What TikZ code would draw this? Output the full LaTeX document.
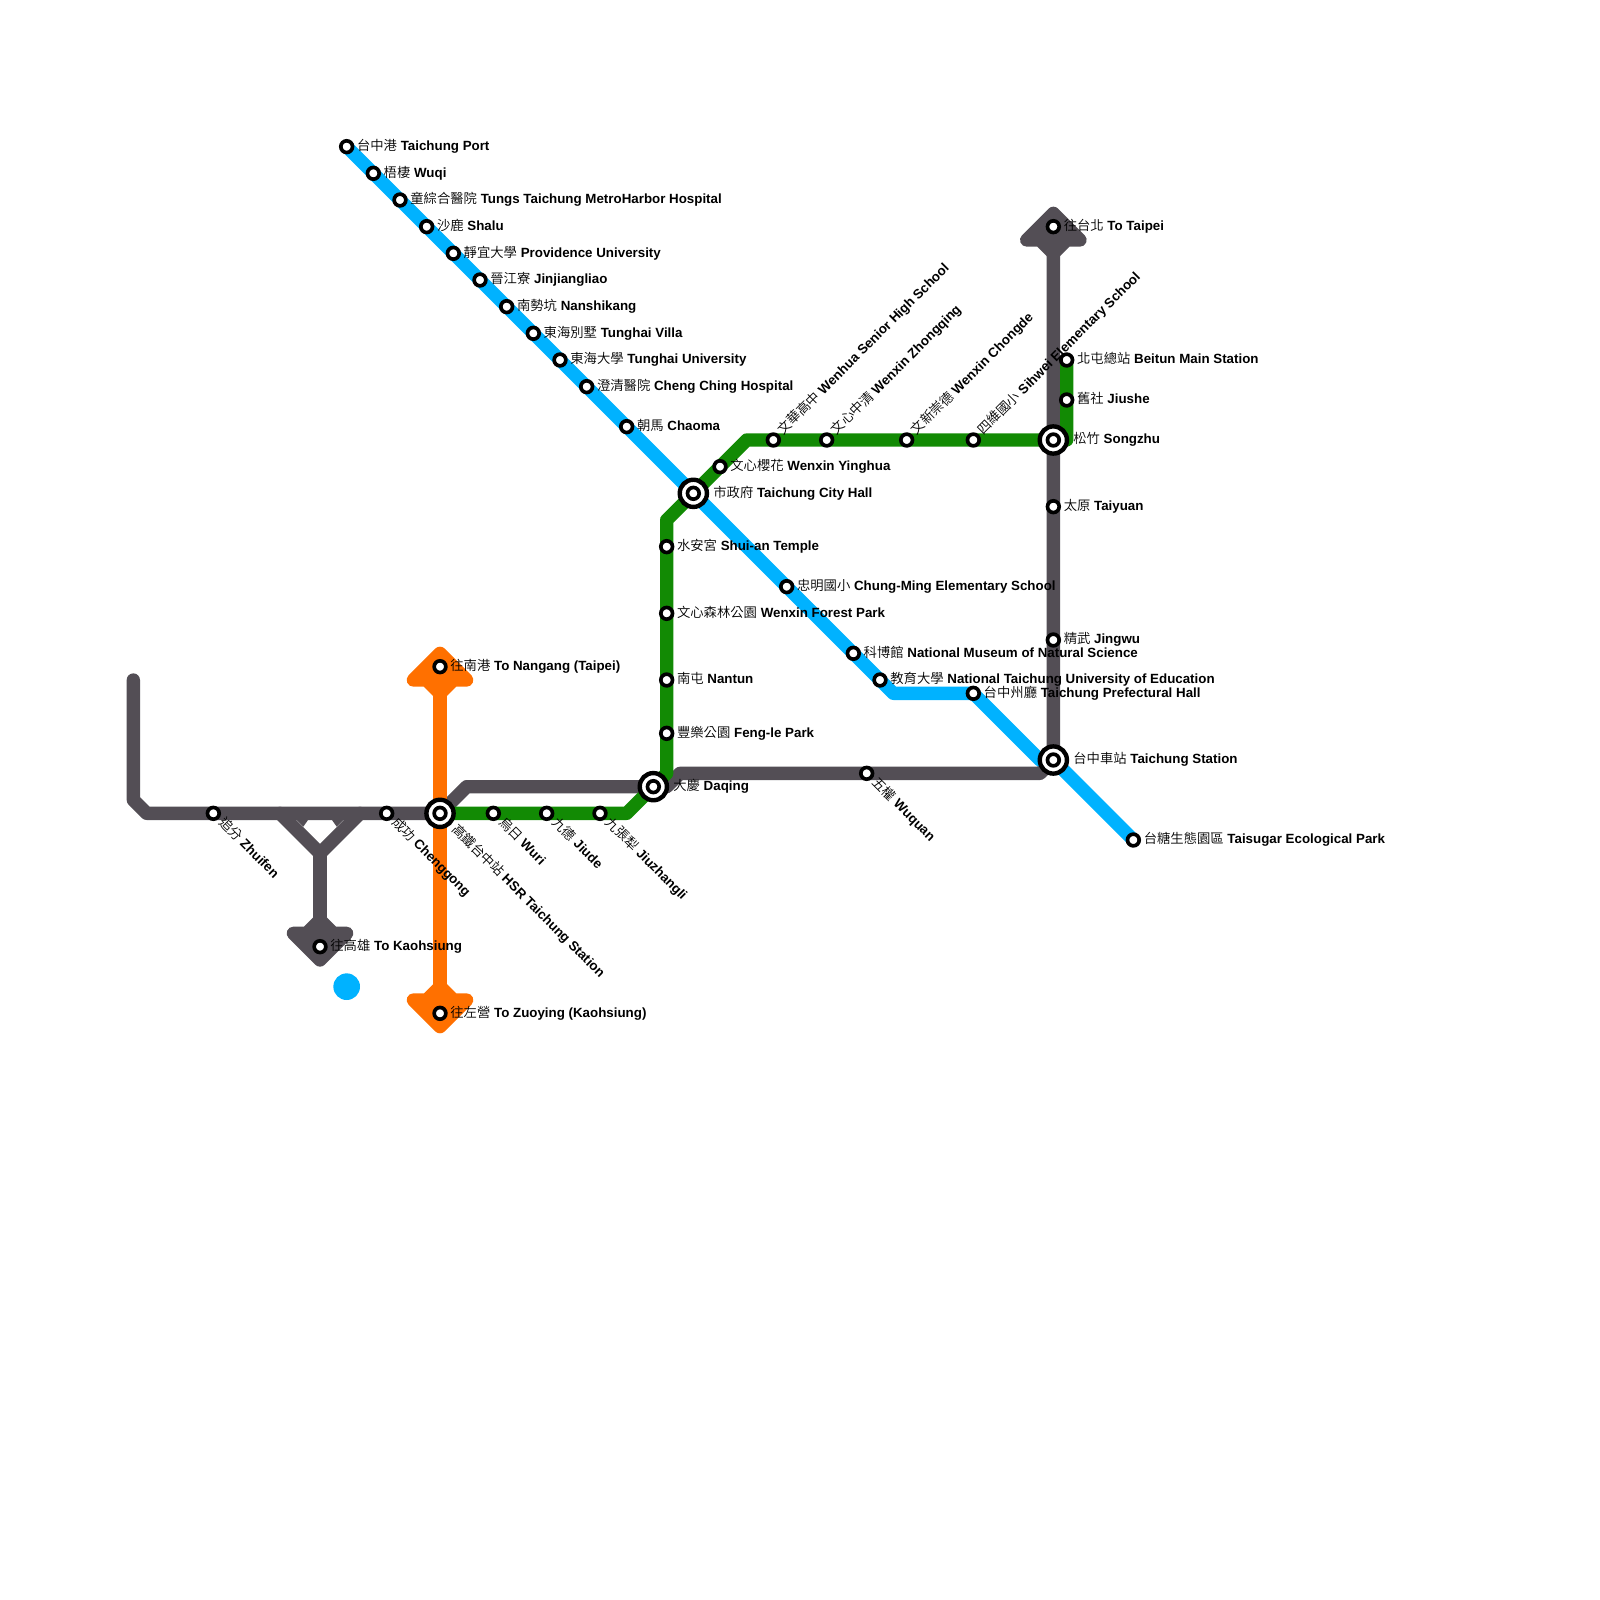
\documentclass[tikz,border=0pt]{standalone}
\usepackage{fontspec}
\usetikzlibrary{backgrounds}
\setmainfont{Liberation Sans}
\newfontfamily\cjk{Noto Sans CJK TC}[UprightFont=* DemiLight]
\definecolor{linegray}{RGB}{83,78,85}
\definecolor{lineblue}{RGB}{0,178,255}
\definecolor{linegreen}{RGB}{18,138,4}
\definecolor{lineorange}{RGB}{255,112,0}
% station: name, position, label style, chinese, english
\newcommand{\stn}[5]{%
	\node[station] (#1) at (#2) {};
	\node[#3] at (#1.center) {{\cjk #4} \textbf{#5}};
}
\newcommand{\bigstn}[5]{%
	\node[hub] (#1) at (#2) {};
	\node[station] at (#1.center) {};
	\node[#3] at (#1.center) {{\cjk #4} \textbf{#5}};
}
\begin{document}
\begin{tikzpicture}[
		x=6.6667bp,y=-6.6667bp,
		font=\fontsize{6.667bp}{8bp}\selectfont,
		station/.style={circle,draw=black,fill=white,line width=1.83bp,minimum size=5.85bp,inner sep=0pt,outer sep=0pt},
		hub/.style={circle,draw=black,fill=white,line width=2.2bp,minimum size=13.6bp,inner sep=0pt,outer sep=0pt},
		metro/.style={line width=6.6667bp,line cap=round,line join=round},
		head/.style={line width=6.6667bp,line join=round},
		txt/.style={anchor=west,inner ysep=0pt,text height=5.2bp,text depth=1.4bp},
		lblr/.style={txt,inner xsep=5bp},
		lbld/.style={txt,inner xsep=5bp,rotate=-45},
		lblu/.style={txt,inner xsep=5bp,rotate=45},
		hubr/.style={txt,inner xsep=9.8bp},
		hubd/.style={txt,inner xsep=9.8bp,rotate=-45}
	]
	\useasboundingbox (0,0) rectangle (120,120);

	% blue line
	\stn{port}{26,11}{lblr}{台中港}{Taichung Port}
	\stn{wuqi}{28,13}{lblr}{梧棲}{Wuqi}
	\stn{tungs}{30,15}{lblr}{童綜合醫院}{Tungs Taichung MetroHarbor Hospital}
	\stn{shalu}{32,17}{lblr}{沙鹿}{Shalu}
	\stn{providence}{34,19}{lblr}{靜宜大學}{Providence University}
	\stn{jinjiang}{36,21}{lblr}{晉江寮}{Jinjiangliao}
	\stn{nanshi}{38,23}{lblr}{南勢坑}{Nanshikang}
	\stn{villa}{40,25}{lblr}{東海別墅}{Tunghai Villa}
	\stn{tunghai}{42,27}{lblr}{東海大學}{Tunghai University}
	\stn{chengching}{44,29}{lblr}{澄清醫院}{Cheng Ching Hospital}
	\stn{chaoma}{47,32}{lblr}{朝馬}{Chaoma}
	\bigstn{cityhall}{52,37}{hubr}{市政府}{Taichung City Hall}
	\stn{chungming}{59,44}{lblr}{忠明國小}{Chung-Ming Elementary School}
	\stn{museum}{64,49}{lblr}{科博館}{National Museum of Natural Science}
	\stn{edu}{66,51}{lblr}{教育大學}{National Taichung University of Education}
	\stn{prefect}{73,52}{lblr}{台中州廳}{Taichung Prefectural Hall}
	\bigstn{central}{79,57}{hubr}{台中車站}{Taichung Station}
	\stn{taisugar}{85,63}{lblr}{台糖生態園區}{Taisugar Ecological Park}

	% green line
	\stn{beitun}{80,27}{lblr}{北屯總站}{Beitun Main Station}
	\stn{jiushe}{80,30}{lblr}{舊社}{Jiushe}
	\bigstn{songzhu}{79,33}{hubr}{松竹}{Songzhu}
	\stn{sihwei}{73,33}{lblu}{四維國小}{Sihwei Elementary School}
	\stn{chongde}{68,33}{lblu}{文新崇德}{Wenxin Chongde}
	\stn{zhongqing}{62,33}{lblu}{文心中清}{Wenxin Zhongqing}
	\stn{wenhua}{58,33}{lblu}{文華高中}{Wenhua Senior High School}
	\stn{yinghua}{54,35}{lblr}{文心櫻花}{Wenxin Yinghua}
	\stn{shuian}{50,41}{lblr}{水安宮}{Shui-an Temple}
	\stn{forest}{50,46}{lblr}{文心森林公園}{Wenxin Forest Park}
	\stn{nantun}{50,51}{lblr}{南屯}{Nantun}
	\stn{fengle}{50,55}{lblr}{豐樂公園}{Feng-le Park}
	\bigstn{daqing}{49,59}{hubr}{大慶}{Daqing}
	\stn{jiuzhangli}{45,61}{lbld}{九張犁}{Jiuzhangli}
	\stn{jiude}{41,61}{lbld}{九德}{Jiude}
	\stn{wuri}{37,61}{lbld}{烏日}{Wuri}
	\bigstn{hsr}{33,61}{hubd}{高鐵台中站}{HSR Taichung Station}

	% gray line
	\stn{taipei}{79,17}{lblr}{往台北}{To Taipei}
	\stn{taiyuan}{79,38}{lblr}{太原}{Taiyuan}
	\stn{jingwu}{79,48}{lblr}{精武}{Jingwu}
	\stn{wuquan}{65,58}{lbld}{五權}{Wuquan}
	\stn{chenggong}{29,61}{lbld}{成功}{Chenggong}
	\stn{zhuifen}{16,61}{lbld}{追分}{Zhuifen}
	\stn{kaohsiung}{24,71}{lblr}{往高雄}{To Kaohsiung}

	% orange line
	\stn{nangang}{33,50}{lblr}{往南港}{To Nangang (Taipei)}
	\stn{zuoying}{33,76}{lblr}{往左營}{To Zuoying (Kaohsiung)}

	\node[circle,fill=lineblue,minimum size=13.33bp,inner sep=0pt] (bluedot) at (26,74) {};

	\begin{scope}[on background layer]
		\coordinate (grayend) at (10,51);
		\coordinate (graybendA) at (10,60);
		\coordinate (graybendB) at (11,61);
		\coordinate (forkL) at (21,61);
		\coordinate (forkR) at (27,61);
		\coordinate (fork) at (24,64);
		\coordinate (graybendC) at (35,59);
		\coordinate (graybendD) at (50,59);
		\coordinate (graybendE) at (51,58);
		\coordinate (graybendF) at (78,58);
		\draw[metro,linegray] (grayend) -- (graybendA) -- (graybendB) -- (zhuifen.center) -- (hsr.center)
			-- (graybendC) -- (daqing.center) -- (graybendD) -- (graybendE) -- (wuquan.center)
			-- (graybendF) -- (central.center) -- (taipei.center);
		\draw[metro,linegray] (forkL) -- (fork) -- (forkR);
		\draw[metro,linegray] (fork) -- (kaohsiung.center);
		\fill[linegray] (22.25,61.5) -- (23.1,61.5) -- (22.75,62) -- cycle;
		\fill[linegray] (25.75,61.5) -- (24.9,61.5) -- (25.25,62) -- cycle;
		\filldraw[head,linegray] (24,69) -- (23,70) -- (22,70) -- (24,72) -- (26,70) -- (25,70) -- cycle;
		\filldraw[head,linegray] (79,19) -- (78,18) -- (77,18) -- (79,16) -- (81,18) -- (80,18) -- cycle;

		\coordinate (bluebendA) at (67,52);
		\coordinate (bluebendB) at (78,57);
		\draw[metro,lineblue] (port.center) -- (edu.center) -- (bluebendA) -- (prefect.center)
			-- (bluebendB) -- (central.center) -- (taisugar.center);

		\coordinate (greenbendA) at (80,33);
		\coordinate (greenbendB) at (56,33);
		\coordinate (greenbendC) at (50,39);
		\coordinate (greenbendD) at (50,58);
		\coordinate (greenbendE) at (47,61);
		\draw[metro,linegreen] (beitun.center) -- (greenbendA) -- (songzhu.center) -- (greenbendB)
			-- (greenbendC) -- (greenbendD) -- (daqing.center) -- (greenbendE) -- (hsr.center);

		\draw[metro,lineorange] (nangang.center) -- (zuoying.center);
		\filldraw[head,lineorange] (33,52) -- (32,51) -- (31,51) -- (33,49) -- (35,51) -- (34,51) -- cycle;
		\filldraw[head,lineorange] (33,74) -- (32,75) -- (31,75) -- (33,77) -- (35,75) -- (34,75) -- cycle;
	\end{scope}
\end{tikzpicture}
\end{document}
